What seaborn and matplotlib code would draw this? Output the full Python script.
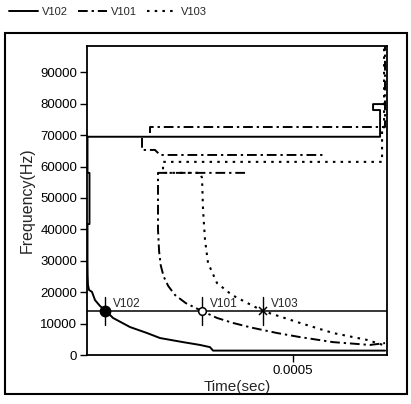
import numpy as np
import pandas as pd
import matplotlib
matplotlib.use("Agg")
import matplotlib.pyplot as plt
from matplotlib.lines import Line2D
from matplotlib.patches import Rectangle
import seaborn as sns

# ---- data (time in seconds, frequency in Hz) ----
v102_t = [723.3e-6, 694.2e-6, 694.2e-6, 711.2e-6, 711.2e-6, 1.2e-6, 1.2e-6, 6.0e-6, 6.0e-6, 1.2e-6,
          1.2e-6, 1.5e-6, 2.4e-6, 4.9e-6, 12.1e-6, 19.4e-6, 31.6e-6, 43.7e-6, 63.1e-6, 104.4e-6,
          145.6e-6, 177.2e-6, 233.0e-6, 274.3e-6, 298.5e-6, 305.8e-6, 723.3e-6]
v102_f = [79900, 79900, 78000, 78000, 69500, 69500, 58000, 58000, 41700, 41700,
          29300, 25500, 22300, 20700, 20100, 17500, 15600, 14300, 11800, 8900,
          7000, 5400, 4100, 3200, 2500, 1400, 1400]
v102_seg = [0] * len(v102_t)

v101_t = [723.3e-6, 723.3e-6, 691.8e-6, 152.9e-6, 152.9e-6,
          133.5e-6, 133.5e-6, 165.0e-6, 177.2e-6, 572.8e-6,
          383.5e-6, 172.3e-6, 172.3e-6, 172.3e-6, 175.0e-6, 179.0e-6, 186.0e-6, 197.0e-6,
          213.6e-6, 240.0e-6, 279.1e-6, 315.5e-6, 354.4e-6, 400.0e-6, 461.2e-6, 517.0e-6,
          597.1e-6, 686.9e-6, 723.3e-6]
v101_f = [100000, 72600, 72600, 72600, 70700,
          69100, 65300, 65300, 63700, 63700,
          58000, 58000, 54100, 39800, 33000, 28500, 25000, 22000,
          19100, 16500, 14000, 11800, 10200, 8700, 7000, 5700,
          4100, 3200, 3800]
v101_seg = [0] * 5 + [1] * 5 + [2] * 19

v103_t = [720.9e-6, 720.9e-6, 716.0e-6, 716.0e-6, 184.5e-6, 184.5e-6, 274.3e-6, 279.1e-6,
          281.6e-6, 286.4e-6, 293.7e-6, 315.5e-6, 351.9e-6, 388.4e-6, 427.2e-6, 517.0e-6,
          597.1e-6, 679.6e-6, 718.5e-6]
v103_f = [100000, 71700, 71700, 61500, 61500, 58000, 58000, 56400,
          46200, 36600, 29300, 22900, 19100, 16600, 14000, 10200,
          7000, 4800, 3200]
v103_seg = [0] * len(v103_t)

series_names = ["V102", "V101", "V103"]
cursor_t = [43.7e-6, 279.1e-6, 427.2e-6]
cursor_f = 14000
cursor_half = 4500

y_ticks = [0, 10000, 20000, 30000, 40000, 50000, 60000, 70000, 80000, 90000]
x_ticks = [0.0005]
x_tick_labels = ["0.0005"]

# ---- figure ----
sns.set_style("white")
plt.rcParams["font.family"] = ["Liberation Sans", "DejaVu Sans"]

W, H = 411, 404
fig = plt.figure(figsize=(W / 100, H / 100), dpi=100)
ax = fig.add_axes([87 / W, 1 - 355 / H, (387 - 87) / W, (355 - 46) / H])

def df_of(t, f, seg):
    return pd.DataFrame({"t": t, "f": f, "seg": seg})

common = dict(x="t", y="f", units="seg", estimator=None, sort=False,
              color="black", ax=ax, legend=False)
sns.lineplot(data=df_of(v102_t, v102_f, v102_seg), linewidth=1.4, **common)
sns.lineplot(data=df_of(v101_t, v101_f, v101_seg), linewidth=1.4,
             linestyle=(0, (5, 2, 1.2, 2)), **common)
sns.lineplot(data=df_of(v103_t, v103_f, v103_seg), linewidth=1.5,
             linestyle=(0, (1.2, 2.5)), **common)

# cursor
ax.axhline(cursor_f, color="black", lw=1.1)
markers = [dict(marker="o", ms=7.5, mfc="black", mec="black"),
           dict(marker="o", ms=5.5, mfc="white", mec="black", mew=1.1),
           dict(marker="x", ms=6, mec="black", mew=1.1)]
for name, t, mk in zip(series_names, cursor_t, markers):
    ax.plot([t, t], [cursor_f - cursor_half, cursor_f + cursor_half], color="black", lw=1.0)
    ax.plot([t], [cursor_f], linestyle="none", **mk, zorder=5)
    ax.annotate(name, (t, cursor_f), xytext=(6, 1), textcoords="offset points",
                fontsize=8.5, va="bottom", ha="left")

ax.set_xlim(0, 728e-6)
ax.set_ylim(0, 98400)
ax.set_yticks(y_ticks)
ax.set_yticklabels([str(v) for v in y_ticks])
ax.set_xticks(x_ticks)
ax.set_xticklabels(x_tick_labels)
ax.tick_params(axis="both", direction="out", length=5, width=1, labelsize=9.5,
               colors="black", bottom=True, left=True, pad=2)
ax.set_xlabel("Time(sec)", fontsize=11, labelpad=2)
ax.set_ylabel("Frequency(Hz)", fontsize=11.5, labelpad=4)
for s in ax.spines.values():
    s.set_visible(True)
    s.set_color("black")
    s.set_linewidth(1.3)

# outer frame
fig.patches.append(Rectangle((5 / W, 1 - 394 / H), (407 - 5) / W, (394 - 33) / H,
                             transform=fig.transFigure, fill=False, lw=1.5, ec="black"))

handles = [Line2D([], [], color="black", lw=1.4),
           Line2D([], [], color="black", lw=1.4, linestyle=(0, (5, 2, 1.2, 2))),
           Line2D([], [], color="black", lw=1.5, linestyle=(0, (1.2, 2.5)))]
fig.legend(handles, series_names, loc="upper left", bbox_to_anchor=(0.005, 1.0),
           ncol=3, frameon=False, fontsize=8, handlelength=2.6,
           handletextpad=0.4, columnspacing=0.9, borderaxespad=0.2)

fig.savefig("out.png", dpi=100, facecolor="white")
